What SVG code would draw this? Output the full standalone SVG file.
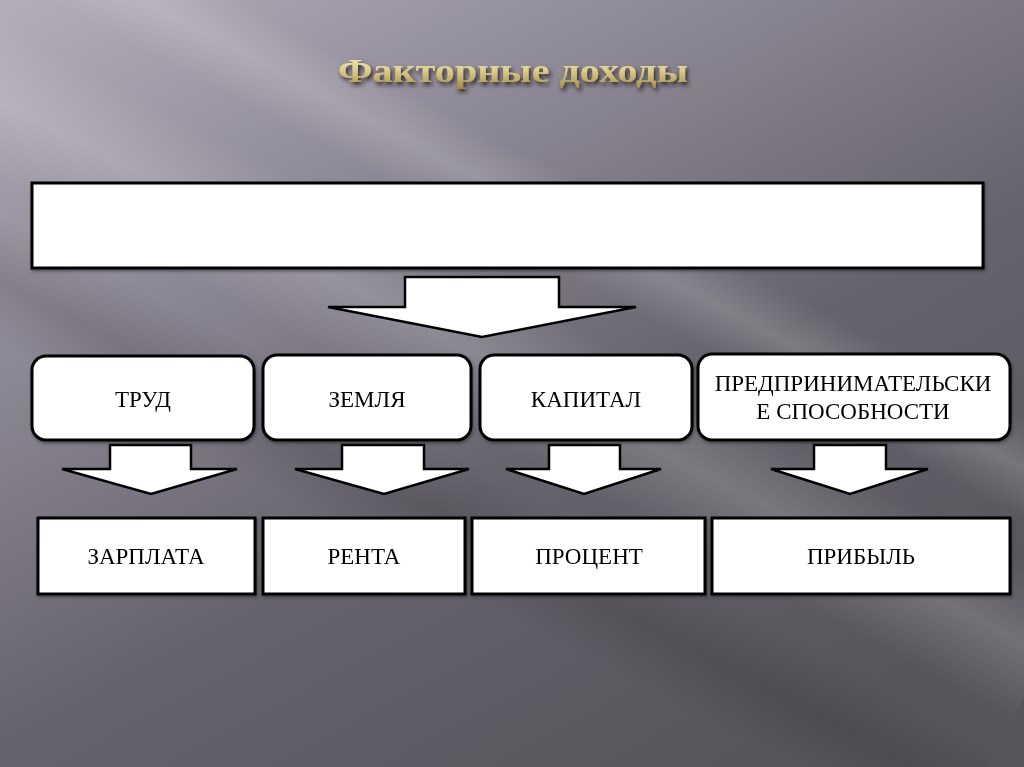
<svg xmlns="http://www.w3.org/2000/svg" width="1024" height="767" viewBox="0 0 1024 767">
<defs>
<linearGradient id="bg" x1="0" y1="0" x2="0.7" y2="1">
<stop offset="0" stop-color="#b4aebb"/>
<stop offset="0.35" stop-color="#8a8592"/>
<stop offset="0.65" stop-color="#67636c"/>
<stop offset="1" stop-color="#59555d"/>
</linearGradient>
<linearGradient id="streak" x1="0" y1="0" x2="0" y2="1">
<stop offset="0" stop-color="#ffffff" stop-opacity="0"/>
<stop offset="0.5" stop-color="#ffffff" stop-opacity="0.16"/>
<stop offset="1" stop-color="#ffffff" stop-opacity="0"/>
</linearGradient>
<linearGradient id="dark" x1="0" y1="0" x2="0" y2="1">
<stop offset="0" stop-color="#000000" stop-opacity="0"/>
<stop offset="0.5" stop-color="#000000" stop-opacity="0.12"/>
<stop offset="1" stop-color="#000000" stop-opacity="0"/>
</linearGradient>
<linearGradient id="gold" x1="0" y1="0" x2="0" y2="1">
<stop offset="0" stop-color="#f6efc4"/>
<stop offset="0.5" stop-color="#dccd8c"/>
<stop offset="1" stop-color="#a08b44"/>
</linearGradient>
<filter id="tshadow" x="-10%" y="-30%" width="120%" height="170%">
<feDropShadow dx="2" dy="3" stdDeviation="2" flood-color="#1a1818" flood-opacity="0.85"/>
</filter>
<filter id="bshadow" x="-5%" y="-10%" width="110%" height="125%">
<feDropShadow dx="1" dy="2" stdDeviation="1.5" flood-color="#222" flood-opacity="0.5"/>
</filter>
</defs>
<style>
.box{fill:#ffffff;stroke:#000000;stroke-width:3}
.arrow{fill:#ffffff;stroke:#000000;stroke-width:2.5;stroke-linejoin:miter}
.lbl{font-family:"Liberation Serif","Times New Roman",serif;font-size:23px;fill:#000000;text-anchor:middle}
</style>
<rect x="0" y="0" width="1024" height="767" fill="url(#bg)"/>
<g transform="rotate(28 400 380)">
<rect x="-300" y="250" width="1400" height="140" fill="url(#streak)"/>
<rect x="-300" y="420" width="1400" height="120" fill="url(#dark)"/>
<rect x="-300" y="120" width="1400" height="90" fill="url(#streak)"/>
</g>
<g id="title">
<text x="513" y="82" text-anchor="middle" font-family="Liberation Serif, serif" font-size="34" font-weight="bold" textLength="350" lengthAdjust="spacingAndGlyphs" fill="url(#gold)" filter="url(#tshadow)">Факторные доходы</text>
</g>
<g id="connectors">
<polygon class="arrow" points="405,277 559,277 559,307 636,307 482,337 328,307 405,307"/>
<polygon class="arrow" points="110,445 191,445 191,469 237,469 151,494 62,469 110,469"/>
<polygon class="arrow" points="342,445 424,445 424,469 469,469 384,494 295,469 342,469"/>
<polygon class="arrow" points="549,445 620,445 620,469 661,469 584,494 506,469 549,469"/>
<polygon class="arrow" points="814,445 886,445 886,469 928,469 850,494 771,469 814,469"/>
</g>
<g id="top-box" filter="url(#bshadow)">
<rect class="box" x="32" y="183" width="951" height="85"/>
</g>
<g id="node-trud" filter="url(#bshadow)">
<rect class="box" x="32" y="356" width="222" height="84" rx="14"/>
<text class="lbl" x="143" y="407">ТРУД</text>
</g>
<g id="node-zemlya" filter="url(#bshadow)">
<rect class="box" x="263" y="355" width="208" height="85" rx="14"/>
<text class="lbl" x="367" y="407">ЗЕМЛЯ</text>
</g>
<g id="node-kapital" filter="url(#bshadow)">
<rect class="box" x="480" y="355" width="212" height="85" rx="14"/>
<text class="lbl" x="586" y="407">КАПИТАЛ</text>
</g>
<g id="node-predpr" filter="url(#bshadow)">
<rect class="box" x="698" y="354" width="312" height="86" rx="14"/>
<text class="lbl" x="853" y="391">ПРЕДПРИНИМАТЕЛЬСКИ</text>
<text class="lbl" x="853" y="419">Е СПОСОБНОСТИ</text>
</g>
<g id="node-zarplata" filter="url(#bshadow)">
<rect class="box" x="38" y="518" width="217" height="76"/>
<text class="lbl" x="146" y="564">ЗАРПЛАТА</text>
</g>
<g id="node-renta" filter="url(#bshadow)">
<rect class="box" x="263" y="518" width="202" height="76"/>
<text class="lbl" x="364" y="564">РЕНТА</text>
</g>
<g id="node-procent" filter="url(#bshadow)">
<rect class="box" x="472" y="518" width="233" height="76"/>
<text class="lbl" x="589" y="564">ПРОЦЕНТ</text>
</g>
<g id="node-pribyl" filter="url(#bshadow)">
<rect class="box" x="712" y="518" width="298" height="76"/>
<text class="lbl" x="861" y="564">ПРИБЫЛЬ</text>
</g>
</svg>
